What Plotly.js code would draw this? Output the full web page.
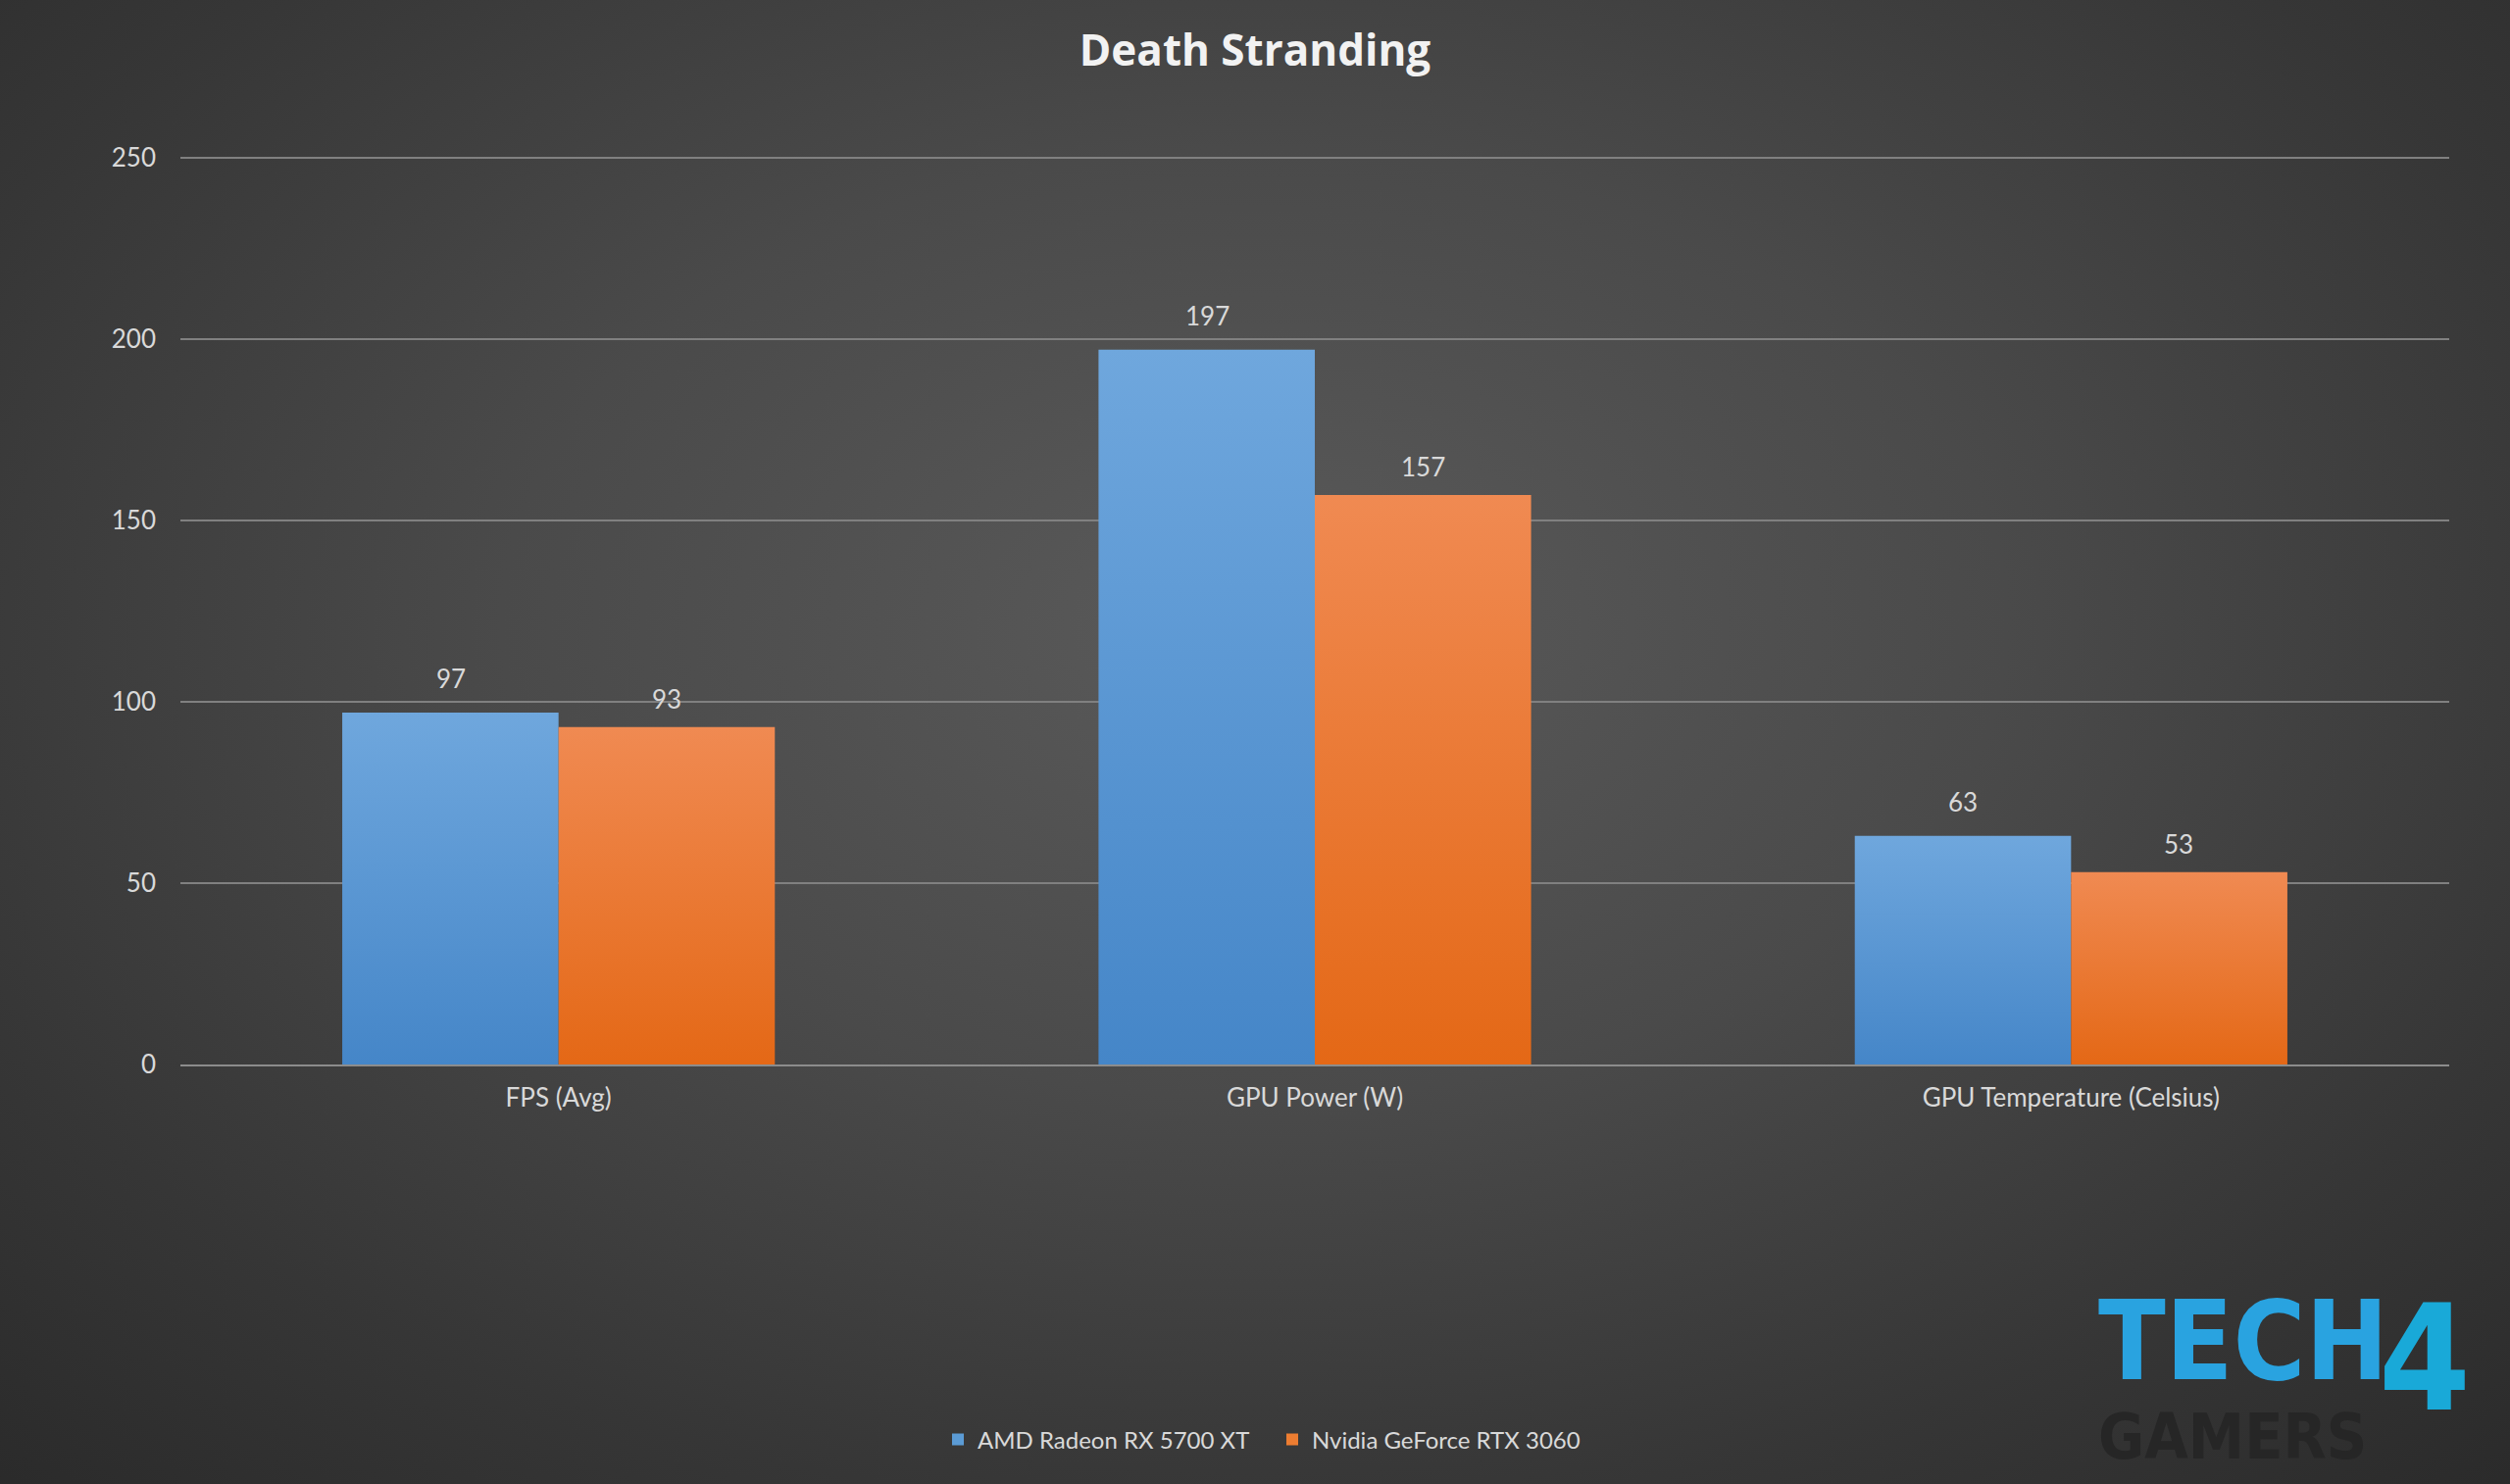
<!DOCTYPE html>
<html>
<head>
<meta charset="utf-8">
<script src="https://cdn.plot.ly/plotly-3.0.1.min.js"></script>
<style>
html, body { margin: 0; padding: 0; width: 2560px; height: 1514px; overflow: hidden; }
body { background: radial-gradient(ellipse 75% 80% at 50% 42%, #5a5a5a 0%, #4a4a4a 40%, #363636 75%, #2a2a2a 100%); }
#chart { width: 2560px; height: 1514px; }
</style>
</head>
<body>
<div id="chart"></div>
<script>
const categories = ["FPS (Avg)", "GPU Power (W)", "GPU Temperature (Celsius)"];
const seriesNames = ["AMD Radeon RX 5700 XT", "Nvidia GeForce RTX 3060"];
const amdValues = [97, 197, 63];
const nvidiaValues = [93, 157, 53];
const yTicks = [0, 50, 100, 150, 200, 250];

const FONT = "Lato, Open Sans, sans-serif";
const TITLE_FONT = "Open Sans, sans-serif";
const LABEL_COLOR = "#d9d9d9";

const traces = [
  { type: "bar", name: seriesNames[0], x: categories, y: amdValues,
    marker: { color: "#5b9bd5" }, hoverinfo: "none" },
  { type: "bar", name: seriesNames[1], x: categories, y: nvidiaValues,
    marker: { color: "#ed7d31" }, hoverinfo: "none" }
];

const annotations = [];
categories.forEach((c, i) => {
  annotations.push({ x: c, y: amdValues[i], xref: "x", yref: "y", text: String(amdValues[i]),
    showarrow: false, xshift: -110, yshift: 35, yanchor: "middle",
    font: { family: FONT, size: 26, color: LABEL_COLOR } });
  annotations.push({ x: c, y: nvidiaValues[i], xref: "x", yref: "y", text: String(nvidiaValues[i]),
    showarrow: false, xshift: 110, yshift: 29, yanchor: "middle",
    font: { family: FONT, size: 26, color: LABEL_COLOR } });
});

// Watermark logo (text approximation)
annotations.push({ xref: "paper", yref: "paper", x: 0.8443, y: 0, xanchor: "left", yanchor: "middle",
  text: "<b>TECH</b>", showarrow: false, yshift: -282,
  font: { family: "DejaVu Sans Condensed, Liberation Sans Narrow, sans-serif", size: 112, color: "#29a3e0" } });
annotations.push({ xref: "paper", yref: "paper", x: 0.968, y: 0, xanchor: "left", yanchor: "middle",
  text: "<b>4</b>", showarrow: false, yshift: -300,
  font: { family: "DejaVu Sans Condensed, sans-serif", size: 150, color: "#19a9d8" } });
annotations.push({ xref: "paper", yref: "paper", x: 0.8443, y: 0, xanchor: "left", yanchor: "middle",
  text: "<b>GAMERS</b>", showarrow: false, yshift: -380,
  font: { family: "DejaVu Sans Condensed, sans-serif", size: 64, color: "#262626" } });

const layout = {
  width: 2560, height: 1514,
  paper_bgcolor: "rgba(0,0,0,0)", plot_bgcolor: "rgba(0,0,0,0)",
  margin: { l: 184, r: 62, t: 157, b: 428, pad: 0 },
  title: { text: "<b>Death Stranding</b>", x: 0.5, xanchor: "center", y: 1 - 52 / 1514, yanchor: "middle",
    font: { family: TITLE_FONT, size: 44, color: "#f2f2f2" } },
  barmode: "group", bargap: 0.428, bargroupgap: 0,
  showlegend: true,
  legend: { orientation: "h", x: (1298 - 184) / 2314, xanchor: "center", y: -(1469 - 1086) / 929, yanchor: "middle",
    entrywidth: 296, entrywidthmode: "pixels",
    font: { family: FONT, size: 24, color: LABEL_COLOR }, itemwidth: 30, traceorder: "normal" },
  xaxis: { type: "category", showgrid: false, zeroline: false, showline: true, linecolor: "#8c8c8c", linewidth: 2,
    ticks: "", ticklabelstandoff: 10,
    tickfont: { family: FONT, size: 26, color: LABEL_COLOR } },
  yaxis: { range: [0, 251], tickvals: yTicks, ticktext: yTicks.map(String), showgrid: true,
    gridcolor: "#808080", gridwidth: 2, zeroline: false, showline: false, ticks: "",
    ticklabelstandoff: 24,
    tickfont: { family: FONT, size: 26, color: LABEL_COLOR } },
  annotations: annotations
};

Plotly.newPlot("chart", traces, layout, { staticPlot: true }).then(() => {
  const svg = document.querySelector("#chart .main-svg");
  const ns = "http://www.w3.org/2000/svg";
  let defs = svg.querySelector("defs");
  if (!defs) { defs = document.createElementNS(ns, "defs"); svg.insertBefore(defs, svg.firstChild); }
  function grad(id, top, bottom) {
    const g = document.createElementNS(ns, "linearGradient");
    g.setAttribute("id", id); g.setAttribute("x1", "0"); g.setAttribute("y1", "0");
    g.setAttribute("x2", "0"); g.setAttribute("y2", "1");
    [[0, top], [1, bottom]].forEach(([o, c]) => {
      const s = document.createElementNS(ns, "stop");
      s.setAttribute("offset", o); s.setAttribute("stop-color", c); g.appendChild(s);
    });
    defs.appendChild(g);
  }
  grad("gBlue", "#6fa7dd", "#4586c8");
  grad("gOrange", "#f08a52", "#e46816");
  const barTraces = svg.querySelectorAll(".barlayer .trace");
  const ids = ["gBlue", "gOrange"];
  barTraces.forEach((t, i) => {
    t.querySelectorAll("path").forEach(p => { p.style.fill = "url(#" + ids[i] + ")"; });
  });
});
</script>
</body>
</html>
